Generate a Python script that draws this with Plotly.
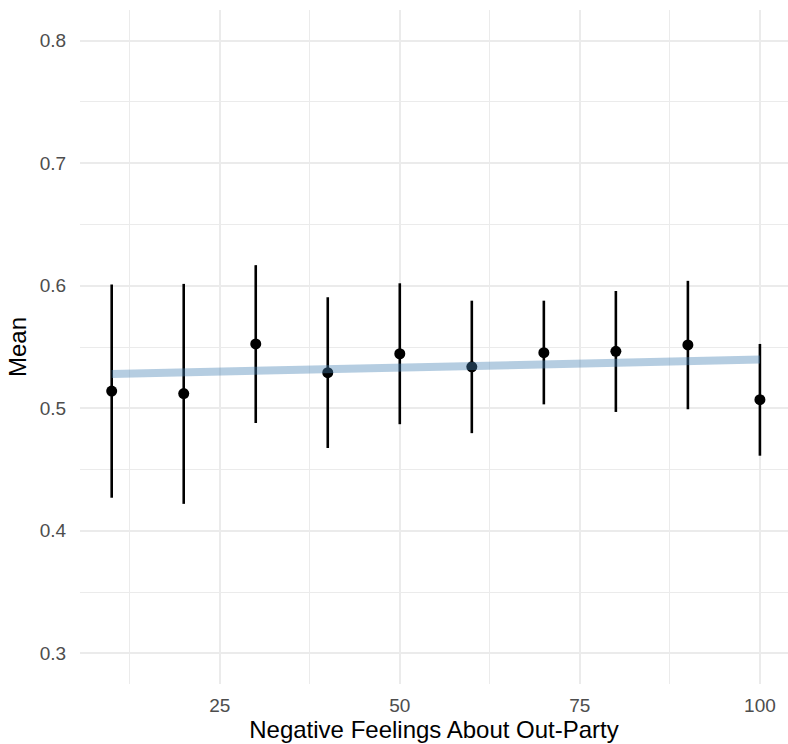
import plotly.graph_objects as go

# Data
x_vals = [10, 20, 30, 40, 50, 60, 70, 80, 90, 100]
means = [0.514, 0.512, 0.5525, 0.529, 0.5445, 0.5338, 0.5454, 0.5465, 0.5517, 0.507]
upper = [0.601, 0.6015, 0.6168, 0.5906, 0.602, 0.5878, 0.5878, 0.5957, 0.604, 0.5525]
lower = [0.427, 0.422, 0.488, 0.4676, 0.487, 0.4797, 0.5032, 0.497, 0.4992, 0.4613]

fit_x = [10, 100]
fit_y = [0.528, 0.5397]

x_ticks = [25, 50, 75, 100]
x_minor = [12.5, 37.5, 62.5, 87.5]
y_ticks = [0.3, 0.4, 0.5, 0.6, 0.7, 0.8]
y_ticktext = ["0.3", "0.4", "0.5", "0.6", "0.7", "0.8"]
y_minor = [0.35, 0.45, 0.55, 0.65, 0.75]

FONT = "Liberation Sans, Arial, Helvetica, sans-serif"
GRID = "#ebebeb"

fig = go.Figure()

fig.add_trace(go.Scatter(
    x=x_vals, y=means, mode="markers",
    marker=dict(color="black", size=11),
    error_y=dict(
        type="data", symmetric=False,
        array=[u - m for u, m in zip(upper, means)],
        arrayminus=[m - l for m, l in zip(means, lower)],
        color="black", thickness=2.6, width=0,
    ),
    showlegend=False, hoverinfo="skip",
))

fig.add_trace(go.Scatter(
    x=fit_x, y=fit_y, mode="lines",
    line=dict(color="rgba(70,130,180,0.4)", width=8),
    showlegend=False, hoverinfo="skip",
))

fig.update_layout(
    width=788, height=744,
    margin=dict(l=80, r=0, t=10, b=60),
    paper_bgcolor="white", plot_bgcolor="white",
    font=dict(family=FONT),
    xaxis=dict(
        range=[5.6, 103.9],
        tickmode="array", tickvals=x_ticks,
        showgrid=True, gridcolor=GRID, gridwidth=2,
        minor=dict(tickmode="array", tickvals=x_minor, showgrid=True,
                   gridcolor=GRID, gridwidth=1),
        zeroline=False, showline=False,
        ticks="outside", ticklen=4, tickcolor="rgba(0,0,0,0)",
        tickfont=dict(size=19, color="#4d4d4d", family=FONT),
        title=dict(text="Negative Feelings About Out-Party",
                   font=dict(size=24, color="black", family=FONT),
                   standoff=4),
    ),
    yaxis=dict(
        range=[0.275, 0.825],
        tickmode="array", tickvals=y_ticks, ticktext=y_ticktext,
        showgrid=True, gridcolor=GRID, gridwidth=2,
        minor=dict(tickmode="array", tickvals=y_minor, showgrid=True,
                   gridcolor=GRID, gridwidth=1),
        zeroline=False, showline=False,
        ticks="outside", ticklen=9, tickcolor="rgba(0,0,0,0)",
        tickfont=dict(size=19, color="#4d4d4d", family=FONT),
        title=dict(text="Mean",
                   font=dict(size=24, color="black", family=FONT),
                   standoff=6),
    ),
)

fig.write_html("out.html")
